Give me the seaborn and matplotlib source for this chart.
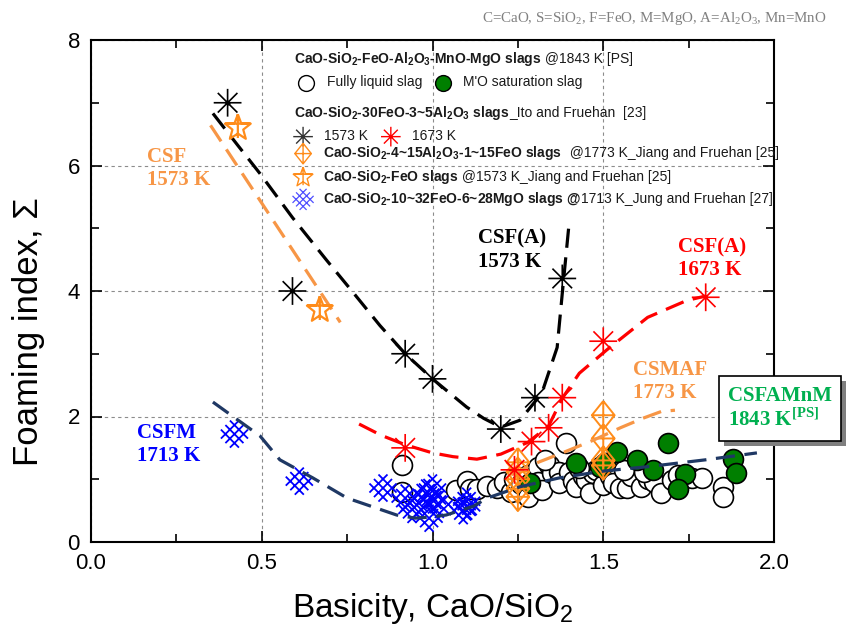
import numpy as np
import pandas as pd
import matplotlib
matplotlib.use("Agg")
import matplotlib.pyplot as plt
import matplotlib.transforms as mtransforms
from matplotlib.patches import Rectangle
import seaborn as sns
from matplotlib.path import Path

# ---------------- data ----------------
black_x = [0.40, 0.59, 0.92, 1.00, 1.20, 1.30, 1.38]
black_y = [7.00, 4.00, 3.00, 2.60, 1.80, 2.30, 4.20]

red_x = [0.92, 1.24, 1.29, 1.34, 1.38, 1.50, 1.80]
red_y = [1.50, 1.15, 1.60, 1.82, 2.30, 3.20, 3.90]

ostar_x = [0.43, 0.67]
ostar_y = [6.60, 3.70]

diam_x = [1.25, 1.25, 1.25, 1.25, 1.25, 1.50, 1.50, 1.50, 1.50]
diam_y = [1.27, 1.12, 1.00, 0.85, 0.72, 2.02, 1.65, 1.30, 1.22]

blue_x = [0.42, 0.61, 0.855, 0.92, 0.94, 0.96, 0.98, 1.00, 1.00, 1.02, 0.99, 1.09, 1.10, 1.10]
blue_y = [1.72, 0.97, 0.86, 0.70, 0.52, 0.62, 0.78, 0.86, 0.67, 0.60, 0.38, 0.50, 0.65, 0.56]

open_x = [0.91, 0.91, 1.07, 1.10, 1.11, 1.13, 1.16, 1.19, 1.21, 1.23, 1.24, 1.26, 1.28, 1.28,
          1.31, 1.31, 1.32, 1.34, 1.35, 1.37, 1.37, 1.39, 1.40, 1.41, 1.42, 1.44, 1.45, 1.46,
          1.47, 1.48, 1.50, 1.52, 1.53, 1.55, 1.57, 1.58, 1.61, 1.63, 1.65, 1.67, 1.70, 1.72,
          1.76, 1.79, 1.85, 1.85, 1.33, 1.43, 1.56, 1.62]
open_y = [1.22, 0.80, 0.83, 0.98, 0.85, 0.85, 0.90, 0.86, 0.95, 0.80, 1.00, 0.92, 1.07, 0.72,
          1.20, 0.96, 0.83, 1.23, 1.10, 1.12, 0.94, 1.58, 1.12, 0.97, 0.88, 1.05, 0.99, 0.78,
          1.10, 1.15, 0.91, 1.05, 0.94, 0.86, 0.86, 1.05, 0.88, 1.00, 0.96, 0.78, 0.99, 1.06,
          1.02, 1.02, 0.88, 0.72, 1.30, 1.18, 1.15, 1.12]

green_x = [1.285, 1.42, 1.49, 1.505, 1.54, 1.60, 1.645, 1.69, 1.74, 1.72, 1.88, 1.89]
green_y = [0.94, 1.26, 1.19, 1.26, 1.43, 1.30, 1.15, 1.58, 1.08, 0.84, 1.32, 1.10]

# trend curves
bcurve_x = [0.357, 0.43, 0.495, 0.59, 0.69, 0.77, 0.846, 0.92, 1.00, 1.10, 1.15, 1.20, 1.256, 1.32, 1.365, 1.38, 1.40]
bcurve_y = [6.83, 6.32, 5.87, 5.17, 4.49, 3.96, 3.45, 3.00, 2.60, 2.15, 1.97, 1.83, 1.94, 2.37, 3.10, 3.96, 5.08]

rcurve_x = [0.785, 0.85, 0.92, 1.00, 1.06, 1.13, 1.20, 1.28, 1.34, 1.38, 1.43, 1.51, 1.63, 1.745, 1.80]
rcurve_y = [1.88, 1.70, 1.55, 1.42, 1.36, 1.32, 1.40, 1.59, 1.85, 2.29, 2.69, 3.06, 3.58, 3.85, 3.92]

ocurve_x = [0.35, 0.73]
ocurve_y = [6.64, 3.50]

mcurve_x = [1.23, 1.30, 1.38, 1.47, 1.55, 1.62, 1.67, 1.71]
mcurve_y = [1.07, 1.25, 1.42, 1.62, 1.82, 1.98, 2.08, 2.10]

ncurve_x = [0.357, 0.495, 0.553, 0.65, 0.75, 0.895, 0.95, 1.00, 1.04, 1.12, 1.16, 1.256, 1.37, 1.50, 1.63, 1.80, 1.95]
ncurve_y = [2.23, 1.69, 1.31, 1.02, 0.70, 0.43, 0.38, 0.40, 0.43, 0.57, 0.70, 0.88, 1.02, 1.13, 1.20, 1.31, 1.42]

x_ticks = [0.0, 0.5, 1.0, 1.5, 2.0]
y_ticks = [0, 2, 4, 6, 8]

# ---------------- style ----------------
sns.set_style("ticks")
plt.rcParams.update({
    "mathtext.fontset": "custom",
    "mathtext.rm": "Liberation Sans",
    "mathtext.it": "Liberation Sans:italic",
    "mathtext.bf": "Liberation Sans:bold",
    "mathtext.sf": "Liberation Serif",
    "mathtext.cal": "Liberation Serif:bold",
    "mathtext.default": "rm",
    "text.color": "black",
    "axes.labelcolor": "black",
    "xtick.color": "black",
    "ytick.color": "black",
})
plt.rcParams["font.family"] = ["Liberation Sans", "DejaVu Sans"]

LORANGE = "#F79646"
ORANGE = "#FF8C1A"
BLUE = "#0000FF"
NAVY = "#1F3864"
GREEN = "#007F00"
TGREEN = "#00B050"

# ---------------- markers ----------------
def asterisk_path(n=8):
    verts, codes = [], []
    for k in range(n // 2):
        a = np.pi / 2 + k * 2 * np.pi / n
        verts += [(np.cos(a), np.sin(a)), (-np.cos(a), -np.sin(a))]
        codes += [Path.MOVETO, Path.LINETO]
    return Path(verts, codes)

def diamond_cross_path():
    w = 0.8
    verts = [(0, 1), (w, 0), (0, -1), (-w, 0), (0, 1), (0, 1), (0, -1), (-w, 0), (w, 0)]
    codes = [Path.MOVETO, Path.LINETO, Path.LINETO, Path.LINETO, Path.LINETO,
             Path.MOVETO, Path.LINETO, Path.MOVETO, Path.LINETO]
    return Path(verts, codes)

def star_cross_path():
    verts, codes = [], []
    for k in range(11):
        a = np.pi / 2 + k * np.pi / 5
        r = 1.0 if k % 2 == 0 else 0.42
        verts.append((r * np.cos(a), r * np.sin(a)))
        codes.append(Path.MOVETO if k == 0 else Path.LINETO)
    verts += [(0, 1), (0, -0.75), (-0.95, 0.31), (0.95, 0.31)]
    codes += [Path.MOVETO, Path.LINETO, Path.MOVETO, Path.LINETO]
    return Path(verts, codes)

def lattice_path():
    a, L = 0.5, 1.0
    verts, codes = [], []
    s = 1 / np.sqrt(2)
    def rot(u, v):
        return ((u - v) * s, (u + v) * s)
    for c in (-a, 0, a):
        verts += [rot(c, -L), rot(c, L)]
        codes += [Path.MOVETO, Path.LINETO]
        verts += [rot(-L, c), rot(L, c)]
        codes += [Path.MOVETO, Path.LINETO]
    return Path(verts, codes)

AST = asterisk_path()
DIA = diamond_cross_path()
STR = star_cross_path()
LAT = lattice_path()

# ---------------- figure ----------------
fig = plt.figure(figsize=(8.46, 6.37), dpi=100)
ax = fig.add_axes([91 / 846, 95 / 637, (774 - 91) / 846, (542 - 40) / 637])
ax.set_xlim(0, 2)
ax.set_ylim(0, 8)

# circles
sns.scatterplot(x=open_x, y=open_y, marker="o", s=205, color="black",
                facecolor="white", edgecolor="black", linewidth=1.2, ax=ax, zorder=3)
sns.scatterplot(x=green_x, y=green_y, marker="o", s=205, color=GREEN,
                facecolor=GREEN, edgecolor="black", linewidth=1.2, ax=ax, zorder=4)

# blue lattice markers
sns.scatterplot(x=blue_x, y=blue_y, marker=LAT, s=380, color=BLUE,
                facecolor="none", edgecolor=BLUE, linewidth=1.3, ax=ax, zorder=5)

# orange diamonds
sns.scatterplot(x=diam_x, y=diam_y, marker=DIA, s=420, color=ORANGE,
                facecolor="none", edgecolor=ORANGE, linewidth=1.4, ax=ax, zorder=6)

# curves
dash = (0, (6, 3))
for cx, cy, col in [(bcurve_x, bcurve_y, "black"), (rcurve_x, rcurve_y, "#FF0000"),
                    (ocurve_x, ocurve_y, LORANGE), (mcurve_x, mcurve_y, LORANGE),
                    (ncurve_x, ncurve_y, NAVY)]:
    sns.lineplot(x=cx, y=cy, sort=False, estimator=None, color=col, linewidth=2.3,
                 linestyle=dash, ax=ax, zorder=7)

# stars
sns.scatterplot(x=ostar_x, y=ostar_y, marker=STR, s=380, color=ORANGE,
                facecolor="none", edgecolor=ORANGE, linewidth=1.6, ax=ax, zorder=8)
sns.scatterplot(x=black_x, y=black_y, marker=AST, s=400, color="black",
                facecolor="none", edgecolor="black", linewidth=1.2, ax=ax, zorder=9)
sns.scatterplot(x=black_x, y=black_y, marker="o", s=9, color="black",
                edgecolor="black", linewidth=0, ax=ax, zorder=9)
sns.scatterplot(x=red_x, y=red_y, marker=AST, s=400, color="#FF0000",
                facecolor="none", edgecolor="#FF0000", linewidth=1.2, ax=ax, zorder=9)

# ---------------- axes styling ----------------
ax.set_xticks(x_ticks)
ax.set_xticklabels([f"{v:.1f}" for v in x_ticks])
ax.set_yticks(y_ticks)
ax.set_yticklabels([str(v) for v in y_ticks])
ax.set_xticks([0.25, 0.75, 1.25, 1.75], minor=True)
ax.set_yticks([1, 3, 5, 7], minor=True)
ax.tick_params(which="both", direction="in", top=True, right=True, width=1.2,
               color="black", labelcolor="black")
ax.tick_params(which="major", length=8, labelsize=16, pad=8)
ax.tick_params(which="minor", length=6)
for sp in ax.spines.values():
    sp.set_linewidth(1.5)
    sp.set_color("black")
ax.grid(True, which="major", linestyle=(0, (3, 3)), color="#8c8c8c", linewidth=0.8)
ax.set_axisbelow(True)
ax.set_xlabel("Basicity, CaO/SiO$_2$", fontsize=24, labelpad=12, color="black")
ax.set_ylabel("Foaming index, Σ", fontsize=25, color="black")
ax.yaxis.set_label_coords(-0.068, 0.42)

# ---------------- annotations ----------------
serif = ["Liberation Serif", "DejaVu Serif"]
ax.text(1.145, 8.34, "C=CaO, S=SiO$_\\mathsf{2}$, F=FeO, M=MgO, A=Al$_\\mathsf{2}$O$_\\mathsf{3}$, Mn=MnO",
        family=serif, fontsize=10.8, color="#808080", ha="left", va="center", clip_on=False)

for x, y, s, c in [(0.164, 5.96, "CSF\n1573 K", LORANGE),
                   (1.133, 4.65, "CSF(A)\n1573 K", "black"),
                   (1.719, 4.51, "CSF(A)\n1673 K", "#FF0000"),
                   (1.587, 2.56, "CSMAF\n1773 K", LORANGE),
                   (0.135, 1.56, "CSFM\n1713 K", BLUE)]:
    ax.text(x, y, s, family=serif, fontweight="bold", fontsize=15, color=c,
            ha="left", va="center", zorder=11)

renderer = fig.canvas.get_renderer()
box_txt = "CSFAMnM\n1843 K$^{\\mathcal{[PS]}}$"
tb = ax.text(1.865, 2.13, box_txt, family=serif, fontweight="bold", fontsize=15, color=TGREEN,
             ha="left", va="center", clip_on=False, zorder=13,
             bbox=dict(boxstyle="square,pad=0.45", fc="white", ec="black", lw=1.2))
fig.canvas.draw()
pb = tb.get_bbox_patch().get_window_extent(renderer)
shadow = Rectangle((pb.x0 + 5, pb.y0 - 5), pb.width, pb.height, transform=mtransforms.IdentityTransform(),
                   fc="#7f7f7f", ec="none", zorder=12, clip_on=False)
ax.add_artist(shadow)

# ---------------- manual legend ----------------
inv = ax.transData.inverted()

def mixed(x, y, parts, size=10):
    for txt, w in parts:
        t = ax.text(x, y, txt, fontsize=size, fontweight=w, ha="left", va="baseline",
                    color="#1a1a1a", zorder=12)
        bb = t.get_window_extent(renderer)
        x = inv.transform((bb.x1, bb.y0))[0]

mixed(0.594, 7.63, [("CaO-SiO$_\\mathbf{2}$-FeO-Al$_\\mathbf{2}$O$_\\mathbf{3}$-MnO-MgO slags", "bold"),
                    (" @1843 K [PS]", "normal")])
ax.scatter([0.63], [7.32], marker="o", s=130, facecolor="white", edgecolor="black", linewidth=1.0, zorder=12)
mixed(0.691, 7.26, [("Fully liquid slag", "normal")])
ax.scatter([1.031], [7.32], marker="o", s=130, facecolor=GREEN, edgecolor="black", linewidth=1.0, zorder=12)
mixed(1.089, 7.26, [("M'O saturation slag", "normal")])

mixed(0.594, 6.77, [("CaO-SiO$_\\mathbf{2}$-30FeO-3~5Al$_\\mathbf{2}$O$_\\mathbf{3}$ slags", "bold"),
                    ("_Ito and Fruehan  [23]", "normal")])
ax.scatter([0.621], [6.46], marker=AST, s=200, facecolor="none", edgecolor="#333333", linewidth=1.0, zorder=12)
mixed(0.682, 6.40, [("1573 K", "normal")])
ax.scatter([0.878], [6.46], marker=AST, s=200, facecolor="none", edgecolor="#FF0000", linewidth=1.0, zorder=12)
mixed(0.94, 6.40, [("1673 K", "normal")])

ax.scatter([0.621], [6.19], marker=DIA, s=220, facecolor="none", edgecolor=ORANGE, linewidth=1.0, zorder=12)
mixed(0.679, 6.13, [("CaO-SiO$_\\mathbf{2}$-4~15Al$_\\mathbf{2}$O$_\\mathbf{3}$-1~15FeO slags", "bold"),
                    ("  @1773 K_Jiang and Fruehan [25]", "normal")])
ax.scatter([0.621], [5.81], marker=STR, s=220, facecolor="none", edgecolor=ORANGE, linewidth=1.0, zorder=12)
mixed(0.679, 5.75, [("CaO-SiO$_\\mathbf{2}$-FeO slags", "bold"),
                    (" @1573 K_Jiang and Fruehan [25]", "normal")])
ax.scatter([0.621], [5.46], marker=LAT, s=230, facecolor="none", edgecolor="#5050FF", linewidth=0.9, zorder=12)
mixed(0.679, 5.40, [("CaO-SiO$_\\mathbf{2}$-10~32FeO-6~28MgO slags @", "bold"),
                    ("1713 K_Jung and Fruehan [27]", "normal")])

leg = ax.get_legend()
if leg is not None:
    leg.remove()

fig.savefig("out.png", dpi=100)
